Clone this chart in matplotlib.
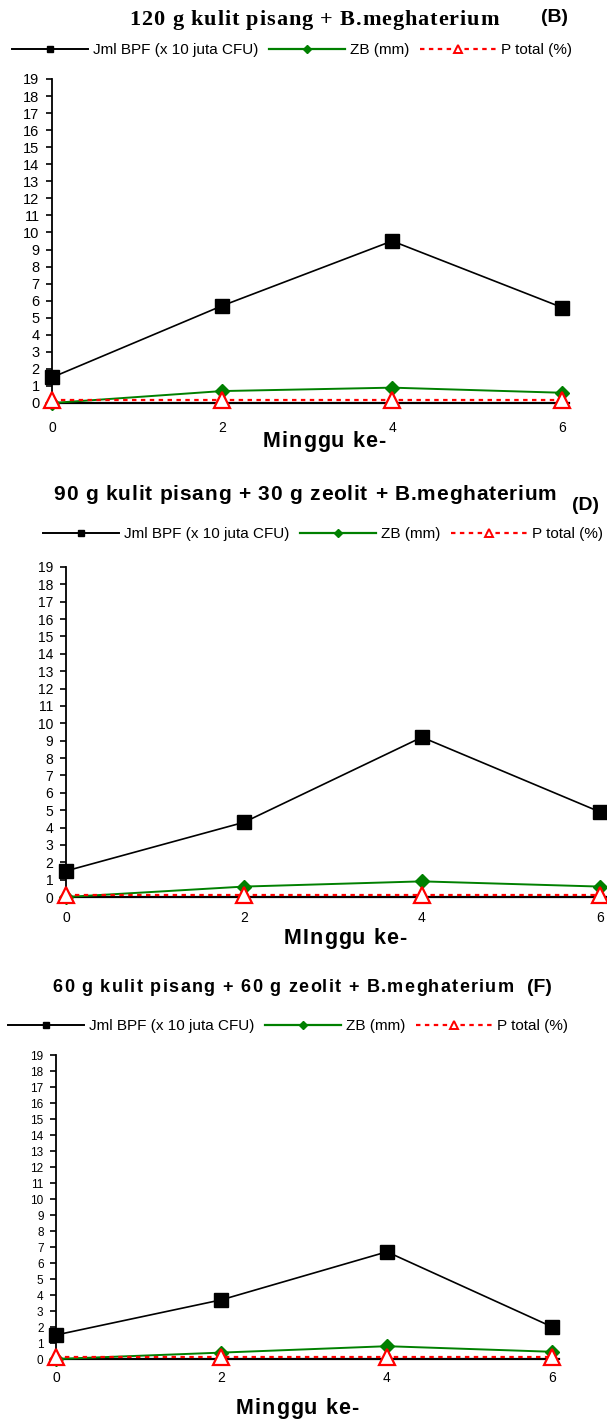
import matplotlib
matplotlib.use("Agg")
import matplotlib.pyplot as plt
from matplotlib.lines import Line2D
from matplotlib.font_manager import FontProperties, findfont, get_font

W, H = 607, 1420
DPI = 100
SANS = ["Liberation Sans", "DejaVu Sans"]
SERIF = ["Liberation Serif", "DejaVu Serif"]

weeks = [0, 2, 4, 6]

# (B) 120 g kulit pisang + B.meghaterium
bpf_b = [1.5, 5.7, 9.5, 5.6]
zb_b = [0.0, 0.7, 0.9, 0.6]
p_b = [0.2, 0.2, 0.2, 0.2]

# (D) 90 g kulit pisang + 30 g zeolit + B.meghaterium
bpf_d = [1.5, 4.3, 9.2, 4.9]
zb_d = [0.0, 0.6, 0.9, 0.6]
p_d = [0.1, 0.1, 0.1, 0.1]

# (F) 60 g kulit pisang + 60 g zeolit + B.meghaterium
bpf_f = [1.5, 3.7, 6.7, 2.0]
zb_f = [0.0, 0.4, 0.8, 0.45]
p_f = [0.1, 0.1, 0.1, 0.1]

series_labels = ["Jml BPF (x 10 juta CFU)", "ZB (mm)", "P total (%)"]
yticks = list(range(0, 20))

GREEN = "#008000"
RED = "#ff0000"


def fx(x):
    return x / W


def fy(y):
    return 1 - y / H


def tracked_text(fig, s, cx, baseline, width, family, size, weight="bold"):
    """Write s centred on cx with letters spread out to fill `width` pixels."""
    fp = FontProperties(family=family, size=size, weight=weight)
    font = get_font(findfont(fp))
    font.set_size(size, DPI)
    adv = [font.load_char(ord(ch)).linearHoriAdvance / 65536 for ch in s]
    extra = max(0.0, (width - sum(adv)) / (len(s) - 1))
    total = sum(adv) + extra * (len(s) - 1)
    x = cx - total / 2
    for ch, a in zip(s, adv):
        if ch != " ":
            fig.text(fx(x), fy(baseline), ch, fontproperties=fp,
                     ha="left", va="baseline")
        x += a + extra


def make_axes(fig, left, right, top, bottom):
    # pixel box -> figure fraction
    return fig.add_axes([fx(left), fy(bottom), (right - left) / W, (bottom - top) / H])


def draw_panel(fig, box, bpf, zb, p, ytick_size, xpad):
    ax = make_axes(fig, *box)
    ax.plot(weeks, bpf, color="black", lw=1.2, marker="s", ms=9.5,
            mfc="black", mec="black", clip_on=False, zorder=3)
    ax.plot(weeks, zb, color=GREEN, lw=1.4, marker="D", ms=7,
            mfc=GREEN, mec=GREEN, clip_on=False, zorder=4)
    ax.plot(weeks, p, color=RED, lw=1.6, ls=(0, (2, 2)), marker="^", ms=11,
            mfc="white", mec=RED, mew=1.6, clip_on=False, zorder=5)

    ax.set_xlim(0, 6.08)
    ax.set_ylim(0, 19)
    ax.set_yticks(yticks)
    ax.set_xticks(weeks)
    for s in ["top", "right"]:
        ax.spines[s].set_visible(False)
    ax.spines["left"].set_linewidth(1.3)
    ax.spines["bottom"].set_linewidth(1.6)
    ax.tick_params(axis="y", direction="out", length=4.5, width=1.2,
                   labelsize=ytick_size, pad=4.5)
    ax.tick_params(axis="x", direction="out", length=2, width=0.8,
                   labelsize=10, pad=xpad)
    for lab in ax.get_xticklabels() + ax.get_yticklabels():
        lab.set_family(SANS)
    return ax


def add_legend(fig, x, y):
    handles = [
        Line2D([], [], color="black", lw=1.4, marker="s", ms=4.5),
        Line2D([], [], color=GREEN, lw=1.6, marker="D", ms=4),
        Line2D([], [], color=RED, lw=1.6, ls=(0, (2, 2)), marker="^", ms=5.5,
               mfc="white", mec=RED, mew=1.4),
    ]
    fig.legend(handles, series_labels, loc="center left",
               bbox_to_anchor=(fx(x), fy(y)),
               ncol=3, frameon=False, borderpad=0, borderaxespad=0,
               handlelength=5.0, handletextpad=0.3, columnspacing=0.7,
               prop={"family": SANS, "size": 11})


def add_tag(fig, tag, x, y):
    fig.text(fx(x), fy(y), tag, ha="left", va="center",
             family=SANS, fontweight="bold", fontsize=14)


fig = plt.figure(figsize=(W / DPI, H / DPI), dpi=DPI)

# panel B
draw_panel(fig, (52, 569, 79, 403), bpf_b, zb_b, p_b, 10.5, 11)
tracked_text(fig, "120 g kulit pisang + B.meghaterium", 314, 25, 369, SERIF, 16)
add_tag(fig, "(B)", 541, 18)
add_legend(fig, 12, 50)
tracked_text(fig, "Minggu ke-", 324, 447, 122, SANS, 15.5)

# panel D
draw_panel(fig, (66, 607, 567, 897), bpf_d, zb_d, p_d, 10, 8)
tracked_text(fig, "90 g kulit pisang + 30 g zeolit + B.meghaterium", 305, 500, 503, SANS, 15)
add_tag(fig, "(D)", 572, 505)
add_legend(fig, 43, 534)
tracked_text(fig, "MInggu ke-", 345, 944, 122, SANS, 15.5)

# panel F
draw_panel(fig, (56, 559, 1055, 1359), bpf_f, zb_f, p_f, 8.5, 6.5)
tracked_text(fig, "60 g kulit pisang + 60 g zeolit + B.meghaterium", 283, 992, 461, SANS, 13)
add_tag(fig, "(F)", 527, 988)
add_legend(fig, 8, 1026)
tracked_text(fig, "Minggu ke-", 297, 1414, 122, SANS, 15.5)

fig.savefig("out.png", dpi=DPI)
